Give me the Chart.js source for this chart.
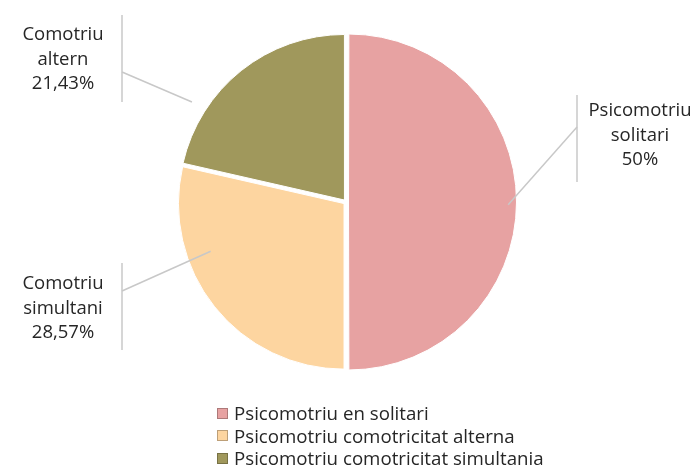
<!DOCTYPE html>
<html>
<head>
<meta charset="utf-8">
<script src="https://cdn.jsdelivr.net/npm/chart.js@4"></script>
<style>
  html,body{margin:0;padding:0;background:#fff;}
  #wrap{position:relative;width:700px;height:466px;}
  #legend{position:absolute;left:217px;top:402px;font-family:"Open Sans",sans-serif;font-size:18.7px;color:#262626;line-height:22.5px;}
  .li{display:flex;align-items:center;gap:6px;white-space:nowrap}
  .sw{width:11px;height:11px;flex-shrink:0;box-sizing:border-box;border:1px solid rgba(0,0,0,0.25)}
</style>
</head>
<body>
<div id="wrap">
  <canvas id="c" width="700" height="466"></canvas>
  <div id="legend"></div>
</div>
<script>
const legendLabels = ["Psicomotriu en solitari","Psicomotriu comotricitat alterna","Psicomotriu comotricitat simultania"];
const sliceNames = ["Psicomotriu solitari","Comotriu simultani","Comotriu altern"];
const values = [50, 28.57, 21.43];
const colors = ["#E7A2A2","#FDD5A0","#A0985C"];

// label placement: anchor angle (deg, canvas), radius factor, elbow, bar, text centre
const labelPos = [
  {ang:1,   f:0.98, ex:577, ey:127, bx:577, by1:95,  by2:182, tx:640, ty:111},
  {ang:160, f:0.87, ex:122, ey:291, bx:122, by1:263, by2:350, tx:63,  ty:284},
  {ang:213, f:1.11, ex:122, ey:72,  bx:122, by1:15,  by2:102, tx:63,  ty:35}
];

const fmt = v => (Math.round(v*100)/100).toString().replace(".",",")+"%";

const leaderPlugin = {
  id:"leaders",
  afterDraw(chart){
    const ctx = chart.ctx;
    const meta = chart.getDatasetMeta(0);
    meta.data.forEach((arc,i)=>{
      const p = arc.getProps(["x","y","outerRadius"],true);
      const L = labelPos[i];
      const a = L.ang*Math.PI/180;
      const ax = p.x+Math.cos(a)*p.outerRadius*L.f, ay = p.y+Math.sin(a)*p.outerRadius*L.f;
      ctx.save();
      ctx.strokeStyle="#c8c8c8";ctx.lineWidth=1.5;
      ctx.beginPath();ctx.moveTo(ax,ay);ctx.lineTo(L.ex,L.ey);ctx.stroke();
      ctx.beginPath();ctx.moveTo(L.bx,L.by1);ctx.lineTo(L.bx,L.by2);ctx.stroke();
      ctx.fillStyle="#262626";ctx.font='18.5px "Open Sans"';ctx.textAlign="center";ctx.textBaseline="middle";
      const lines = sliceNames[i].split(" ").concat([fmt(values[i])]);
      lines.forEach((t,j)=>ctx.fillText(t,L.tx,L.ty+j*24.5));
      ctx.restore();
    });
  }
};

const chart = new Chart(document.getElementById("c"),{
  type:"pie",
  data:{labels:legendLabels,datasets:[{data:values,backgroundColor:colors,borderColor:"#ffffff",borderWidth:1,offset:10}]},
  options:{
    responsive:false,animation:false,
    layout:{padding:{top:31,bottom:93,left:0,right:8}},
    plugins:{legend:{display:false},tooltip:{enabled:false}}
  },
  plugins:[leaderPlugin]
});

document.getElementById("legend").innerHTML = legendLabels.map((t,i)=>
  `<div class="li"><div class="sw" style="background:${colors[i]}"></div><div>${t}</div></div>`).join("");
</script>
</body>
</html>
